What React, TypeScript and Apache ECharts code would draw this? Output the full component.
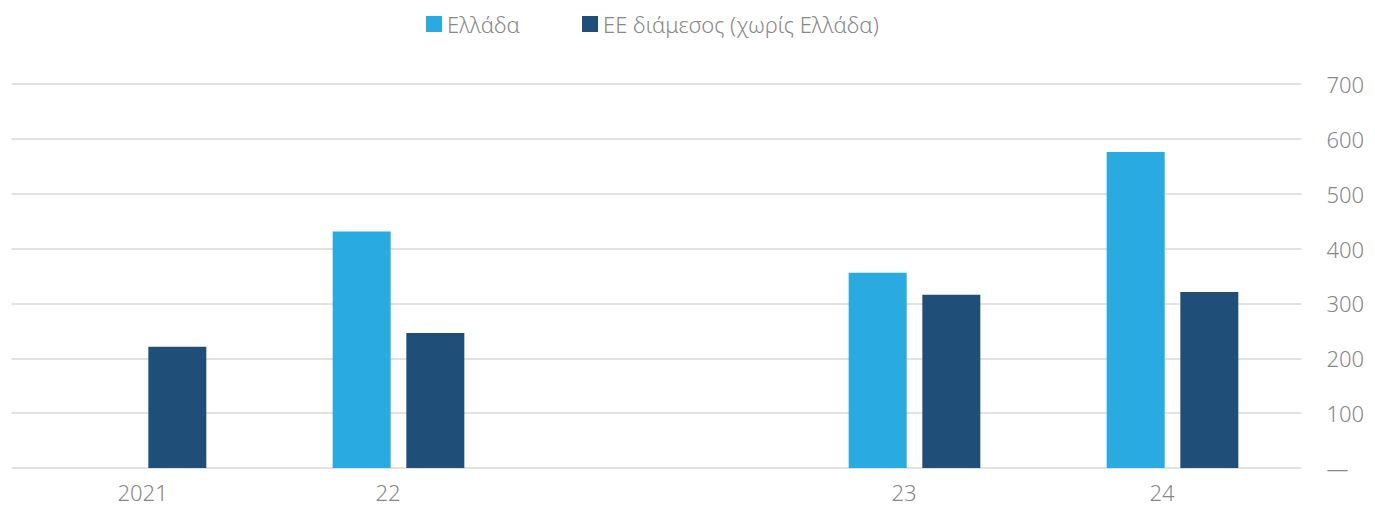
import React, { useEffect, useRef } from "react";
import * as echarts from "echarts";

const categories = ["2021", "22", "", "23", "24"];
const greece = [null, 431, null, 356, 576];
const euMedian = [221, 246, null, 316, 321];
const seriesNames = ["Ελλάδα", "ΕΕ διάμεσος (χωρίς Ελλάδα)"];
const colors = ["#29ABE2", "#1F4E79"];

export default function App() {
  const ref = useRef<HTMLDivElement>(null);
  useEffect(() => {
    if (!ref.current) return;
    const chart = echarts.init(ref.current, undefined, { renderer: "svg" });
    const font = "'Noto Sans', 'Open Sans', sans-serif";
    chart.setOption({
      animation: false,
      textStyle: { fontFamily: font },
      legend: {
        left: 421,
        top: 8,
        itemWidth: 16,
        itemHeight: 16,
        itemGap: 62,
        icon: "rect",
        textStyle: { color: "#888888", fontSize: 22, fontFamily: font, fontWeight: 300 },
        data: seriesNames,
      },
      grid: { left: 11.5, right: 73.5, top: 84, bottom: 41, containLabel: false },
      xAxis: {
        type: "category",
        data: categories,
        axisLine: { show: false },
        axisTick: { show: false },
        axisLabel: {
          color: "#888888",
          fontSize: 22,
          fontFamily: font,
          fontWeight: 300,
          margin: 13,
          align: "left",
          padding: [0, 0, 0, -23],
          interval: 0,
        },
      },
      yAxis: {
        type: "value",
        position: "right",
        min: 0,
        max: 700,
        interval: 100,
        axisLine: { show: false },
        axisTick: { show: false },
        splitLine: { lineStyle: { color: "#d9d9d9", width: 1.5 } },
        axisLabel: {
          color: "#888888",
          fontSize: 22,
          fontFamily: font,
          fontWeight: 300,
          align: "left",
          margin: 25,
          formatter: (v: number) => (v === 0 ? "—" : String(v)),
        },
      },
      series: [
        {
          name: seriesNames[0],
          type: "bar",
          data: greece,
          barWidth: 58,
          barGap: "27%",
          itemStyle: { color: colors[0] },
        },
        {
          name: seriesNames[1],
          type: "bar",
          data: euMedian,
          barWidth: 58,
          barGap: "27%",
          itemStyle: { color: colors[1] },
        },
      ],
    });
    return () => chart.dispose();
  }, []);
  return <div ref={ref} style={{ width: 1375, height: 509, margin: -8 }} />;
}
